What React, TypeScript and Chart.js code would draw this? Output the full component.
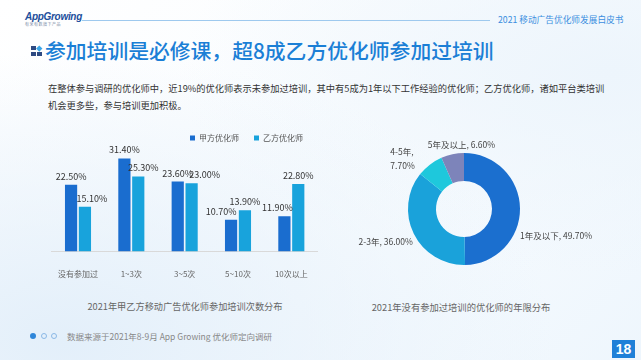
import React, { useEffect, useRef } from "react";
import { Chart, registerables } from "chart.js";

Chart.register(...registerables);

const categories = ["没有参加过", "1~3次", "3~5次", "5~10次", "10次以上"];
const seriesNames = ["甲方优化师", "乙方优化师"];
const seriesA = [22.5, 31.4, 23.6, 10.7, 11.9];
const seriesB = [15.1, 25.3, 23.0, 13.9, 22.8];

const ringLabels = ["1年及以下", "2-3年", "4-5年", "5年及以上"];
const ringValues = [49.7, 36.0, 7.7, 6.6];

const FONT = "'Noto Sans CJK SC', 'Noto Sans', sans-serif";

// horizontal nudges of the value labels (styling only)
const labelShift = [
  [0, 0, 0, -10, -7],
  [7, 5, 13, 0, 0],
];

const barLabelPlugin = {
  id: "barLabels",
  afterDatasetsDraw(chart: any) {
    const ctx = chart.ctx;
    ctx.save();
    ctx.font = `9px ${FONT}`;
    ctx.fillStyle = "#333";
    ctx.textAlign = "center";
    ctx.textBaseline = "bottom";
    chart.data.datasets.forEach((ds: any, di: number) => {
      const meta = chart.getDatasetMeta(di);
      meta.data.forEach((el: any, i: number) => {
        const v = ds.data[i];
        ctx.fillText(v.toFixed(2) + "%", el.x + labelShift[di][i], el.y - 4);
      });
    });
    ctx.restore();
  },
};

const ringLabelCfg = [
  { align: "left", dx: -10, dy: 27, split: false },
  { align: "right", dx: 8, dy: 4, split: false },
  { align: "right", dx: -9, dy: 2, split: true },
  { align: "center", dx: 11, dy: 0, split: false },
];

const ringLabelPlugin = {
  id: "ringLabels",
  afterDraw(chart: any) {
    const ctx = chart.ctx;
    const meta = chart.getDatasetMeta(0);
    ctx.save();
    ctx.font = `8.5px ${FONT}`;
    ctx.fillStyle = "#444";
    ctx.textBaseline = "middle";
    meta.data.forEach((arc: any, i: number) => {
      const mid = (arc.startAngle + arc.endAngle) / 2;
      const r = arc.outerRadius + 10;
      const cfg = ringLabelCfg[i];
      const x = arc.x + Math.cos(mid) * r + cfg.dx;
      const y = arc.y + Math.sin(mid) * r + cfg.dy;
      const val = ringValues[i].toFixed(2) + "%";
      ctx.textAlign = cfg.align;
      if (cfg.split) {
        ctx.textAlign = "left";
        const w = Math.max(ctx.measureText(ringLabels[i] + ",").width, ctx.measureText(val).width);
        ctx.fillText(ringLabels[i] + ",", x - w, y - 7);
        ctx.fillText(val, x - w, y + 7);
      } else {
        ctx.fillText(ringLabels[i] + ", " + val, x, y);
      }
    });
    ctx.restore();
  },
};

function BarChart() {
  const ref = useRef<HTMLCanvasElement>(null);
  useEffect(() => {
    const chart = new Chart(ref.current!, {
      type: "bar",
      data: {
        labels: categories,
        datasets: [
          { label: seriesNames[0], data: seriesA, backgroundColor: "#1a6dcf", barPercentage: 0.88, categoryPercentage: 0.52 },
          { label: seriesNames[1], data: seriesB, backgroundColor: "#18a3dc", barPercentage: 0.88, categoryPercentage: 0.52 },
        ],
      },
      options: {
        responsive: false,
        animation: false,
        layout: { padding: 0 },
        plugins: {
          legend: {
            position: "top",
            align: "end",
            labels: { boxWidth: 5, boxHeight: 5, font: { size: 8, family: FONT }, color: "#555", padding: 15 },
          },
          tooltip: { enabled: false },
        },
        scales: {
          x: {
            grid: { display: false },
            border: { color: "#d9d9d9" },
            ticks: { font: { size: 8, family: FONT }, color: "#666", padding: 10, maxRotation: 0 },
          },
          y: { display: false, min: 0, max: 33.6 },
        },
      },
      plugins: [barLabelPlugin],
    });
    return () => chart.destroy();
  }, []);
  return <canvas ref={ref} width={270} height={170} style={{ position: "absolute", left: 48, top: 119 }} />;
}

function RingChart() {
  const ref = useRef<HTMLCanvasElement>(null);
  useEffect(() => {
    const chart = new Chart(ref.current!, {
      type: "doughnut",
      data: {
        labels: ringLabels,
        datasets: [
          {
            data: ringValues,
            backgroundColor: ["#1b6fcf", "#1aa2da", "#1ec8dc", "#7d84ba"],
            borderWidth: 0,
          },
        ],
      },
      options: {
        responsive: false,
        animation: false,
        cutout: "50%",
        layout: { padding: { top: 24, bottom: 24, left: 0, right: 0 } },
        plugins: { legend: { display: false }, tooltip: { enabled: false } },
      },
      plugins: [ringLabelPlugin],
    });
    return () => chart.destroy();
  }, []);
  return <canvas ref={ref} width={260} height={160} style={{ position: "absolute", left: 334, top: 129 }} />;
}

export default function App() {
  const sq = (l: number, t: number, c: string, rot = false) => (
    <div style={{ position: "absolute", left: l, top: t, width: 4.5, height: 4.5, background: c, transform: rot ? "rotate(45deg) scale(0.9)" : undefined }} />
  );
  return (
    <div
      style={{
        position: "fixed",
        left: 0,
        top: 0,
        width: 641,
        height: 360,
        overflow: "hidden",
        fontFamily: FONT,
        background:
          "radial-gradient(ellipse at 10% 95%, #e3effa 0%, rgba(227,239,250,0) 60%), radial-gradient(ellipse at 95% 20%, #edf5fc 0%, rgba(237,245,252,0) 50%), linear-gradient(135deg, #ffffff 0%, #f7fbfe 60%, #eef6fd 100%)",
      }}
    >
      {/* header */}
      <div style={{ position: "absolute", left: 25, top: 11, fontSize: 10, fontStyle: "italic", fontWeight: 700, color: "#1d4f9c", fontFamily: "'Liberation Sans', sans-serif", letterSpacing: -0.3, lineHeight: "12px" }}>
        AppGrowing
      </div>
      <div style={{ position: "absolute", left: 25, top: 22, fontSize: 4, color: "#7a8aa5", lineHeight: "5px", whiteSpace: "nowrap", letterSpacing: 0.5 }}>有米有数旗下产品</div>
      <div style={{ position: "absolute", left: 82, top: 20, width: 408, height: 1, background: "#9ec9ee" }} />
      <div style={{ position: "absolute", left: 498, top: 13, fontSize: 8.7, color: "#3a8ee0", whiteSpace: "nowrap", lineHeight: "14px" }}>2021 移动广告优化师发展白皮书</div>

      {/* title */}
      {sq(31, 45.5, "#2e4a82")}
      {sq(37, 45.5, "#3aa6e8", true)}
      {sq(31, 51.5, "#2e4a82")}
      {sq(37, 51.5, "#2e4a82")}
      <div style={{ position: "absolute", left: 45, top: 36, fontSize: 20.8, color: "#1b7fd6", whiteSpace: "nowrap", lineHeight: "28px", fontWeight: 500 }}>
        参加培训是必修课，超8成乙方优化师参加过培训
      </div>

      {/* paragraph */}
      <div style={{ position: "absolute", left: 48, top: 80, fontSize: 9.25, color: "#333", whiteSpace: "nowrap", lineHeight: "17px" }}>
        在整体参与调研的优化师中，近19%的优化师表示未参加过培训，其中有5成为1年以下工作经验的优化师；乙方优化师，诸如平台类培训
        <br />
        机会更多些，参与培训更加积极。
      </div>

      <BarChart />
      <RingChart />

      {/* captions */}
      <div style={{ position: "absolute", left: 85, width: 200, top: 299, textAlign: "center", fontSize: 9.2, color: "#666", whiteSpace: "nowrap", lineHeight: "14px" }}>
        2021年甲乙方移动广告优化师参加培训次数分布
      </div>
      <div style={{ position: "absolute", left: 361, width: 200, top: 300, textAlign: "center", fontSize: 9.3, color: "#666", whiteSpace: "nowrap", lineHeight: "14px" }}>
        2021年没有参加过培训的优化师的年限分布
      </div>

      {/* footer */}
      <div style={{ position: "absolute", left: 30, top: 333, width: 6, height: 6, borderRadius: 3, background: "#2f86d9" }} />
      <div style={{ position: "absolute", left: 41, top: 333, width: 4, height: 4, borderRadius: 3, border: "1px solid #8ab8e6" }} />
      <div style={{ position: "absolute", left: 51, top: 333, width: 4, height: 4, borderRadius: 3, border: "1px solid #8ab8e6" }} />
      <div style={{ position: "absolute", left: 67, top: 330, fontSize: 8.5, color: "#888", whiteSpace: "nowrap", lineHeight: "12px" }}>
        数据来源于2021年8-9月 App Growing 优化师定向调研
      </div>
      <div style={{ position: "absolute", left: 612, top: 340, width: 23, height: 18, background: "#1f80d8", color: "#fff", fontSize: 14, fontWeight: 700, textAlign: "center", lineHeight: "18px", fontFamily: "'Liberation Sans', sans-serif" }}>
        18
      </div>
    </div>
  );
}
